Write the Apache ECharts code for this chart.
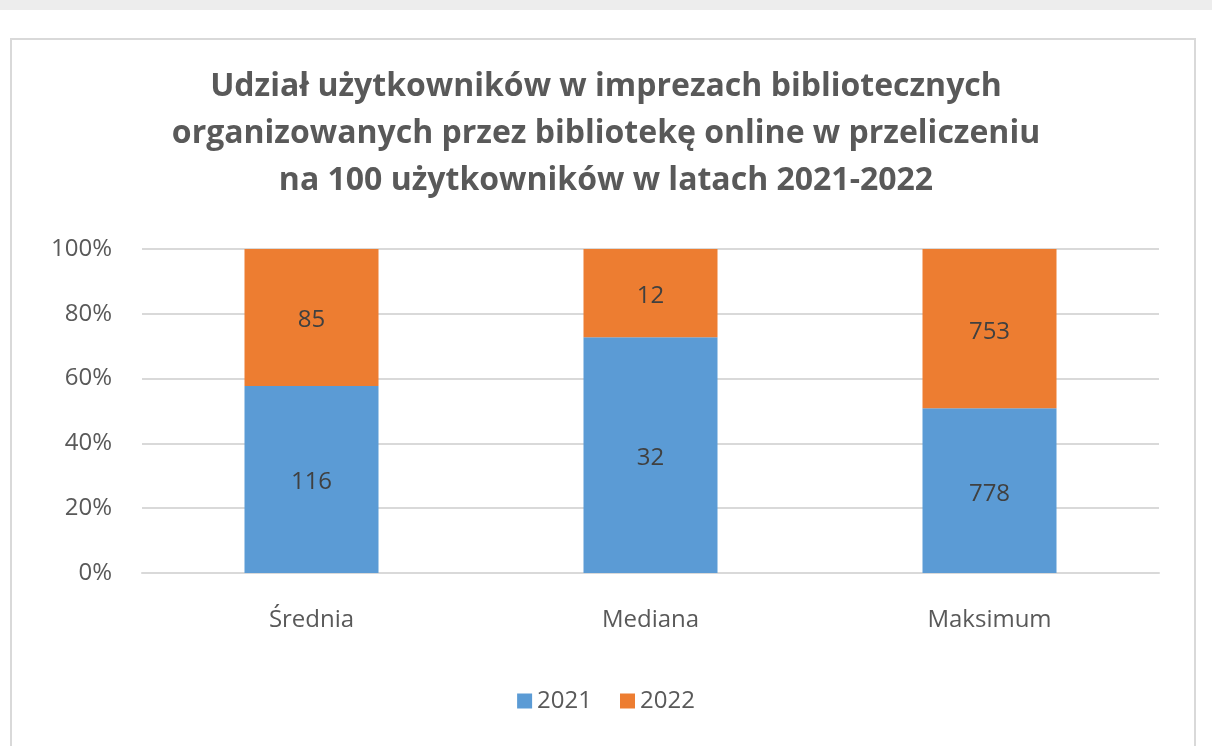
<!DOCTYPE html>
<html>
<head>
<meta charset="utf-8">
<script src="https://cdn.jsdelivr.net/npm/echarts@6/dist/echarts.min.js"></script>
<style>
html, body { margin: 0; padding: 0; background: #fff; }
#main { width: 1212px; height: 746px; }
</style>
</head>
<body>
<div id="main"></div>
<script>
// dane
var categories = ['Średnia', 'Mediana', 'Maksimum'];
var values2021 = [116, 32, 778];
var values2022 = [85, 12, 753];
var yTicks = ['0%', '20%', '40%', '60%', '80%', '100%'];

// udział procentowy w każdej kategorii (wykres 100%)
function share(a, b) {
	return a.map(function (v, i) { return v / (v + b[i]) * 100; });
}
var share2021 = share(values2021, values2022);
var share2022 = share(values2022, values2021);

var myChart = echarts.init(document.getElementById('main'));
var font = '"Open Sans", Lato, sans-serif';

option = {
	animation: false,
	textStyle: { fontFamily: font },
	graphic: [{
		type: 'rect',
		shape: { x: 0, y: 0, width: 1212, height: 10 },
		style: { fill: '#ededed' },
		silent: true
	}, {
		type: 'rect',
		shape: { x: 11, y: 39, width: 1184, height: 720 },
		style: { fill: '#fff', stroke: '#d9d9d9', lineWidth: 2 },
		silent: true,
		z: -1
	}],
	title: {
		text: 'Udział użytkowników w imprezach bibliotecznych\norganizowanych przez bibliotekę online w przeliczeniu\nna 100 użytkowników w latach 2021-2022',
		left: 'center',
		top: 58,
		textStyle: {
			color: '#595959',
			fontSize: 32,
			fontWeight: 'bold',
			fontFamily: font,
			lineHeight: 47
		}
	},
	legend: {
		bottom: 28,
		left: 'center',
		itemWidth: 15,
		itemHeight: 15,
		itemGap: 28,
		icon: 'rect',
		textStyle: { color: '#595959', fontSize: 24, fontFamily: font },
		data: ['2021', '2022']
	},
	grid: {
		left: 142,
		right: 53,
		top: 249,
		bottom: 173
	},
	xAxis: {
		type: 'category',
		data: categories,
		axisTick: { show: false },
		axisLine: { lineStyle: { color: '#d9d9d9', width: 2 } },
		axisLabel: { color: '#595959', fontSize: 24, margin: 35, fontFamily: font }
	},
	yAxis: {
		type: 'value',
		min: 0,
		max: 100,
		interval: 20,
		axisLine: { show: false },
		axisTick: { show: false },
		axisLabel: {
			color: '#595959',
			fontSize: 24,
			margin: 30,
			fontFamily: font,
			formatter: function (v) { return yTicks[v / 20]; }
		},
		splitLine: { lineStyle: { color: '#d9d9d9', width: 2 } }
	},
	series: [{
		name: '2021',
		type: 'bar',
		stack: 'total',
		barWidth: 134,
		itemStyle: { color: '#5b9bd5' },
		label: {
			show: true,
			position: 'inside',
			offset: [0, 3],
			color: '#404040',
			fontSize: 24,
			fontFamily: font,
			formatter: function (p) { return values2021[p.dataIndex]; }
		},
		data: share2021
	}, {
		name: '2022',
		type: 'bar',
		stack: 'total',
		barWidth: 134,
		itemStyle: { color: '#ed7d31' },
		label: {
			show: true,
			position: 'inside',
			offset: [0, 3],
			color: '#404040',
			fontSize: 24,
			fontFamily: font,
			formatter: function (p) { return values2022[p.dataIndex]; }
		},
		data: share2022
	}]
};
myChart.setOption(option);
</script>
</body>
</html>
